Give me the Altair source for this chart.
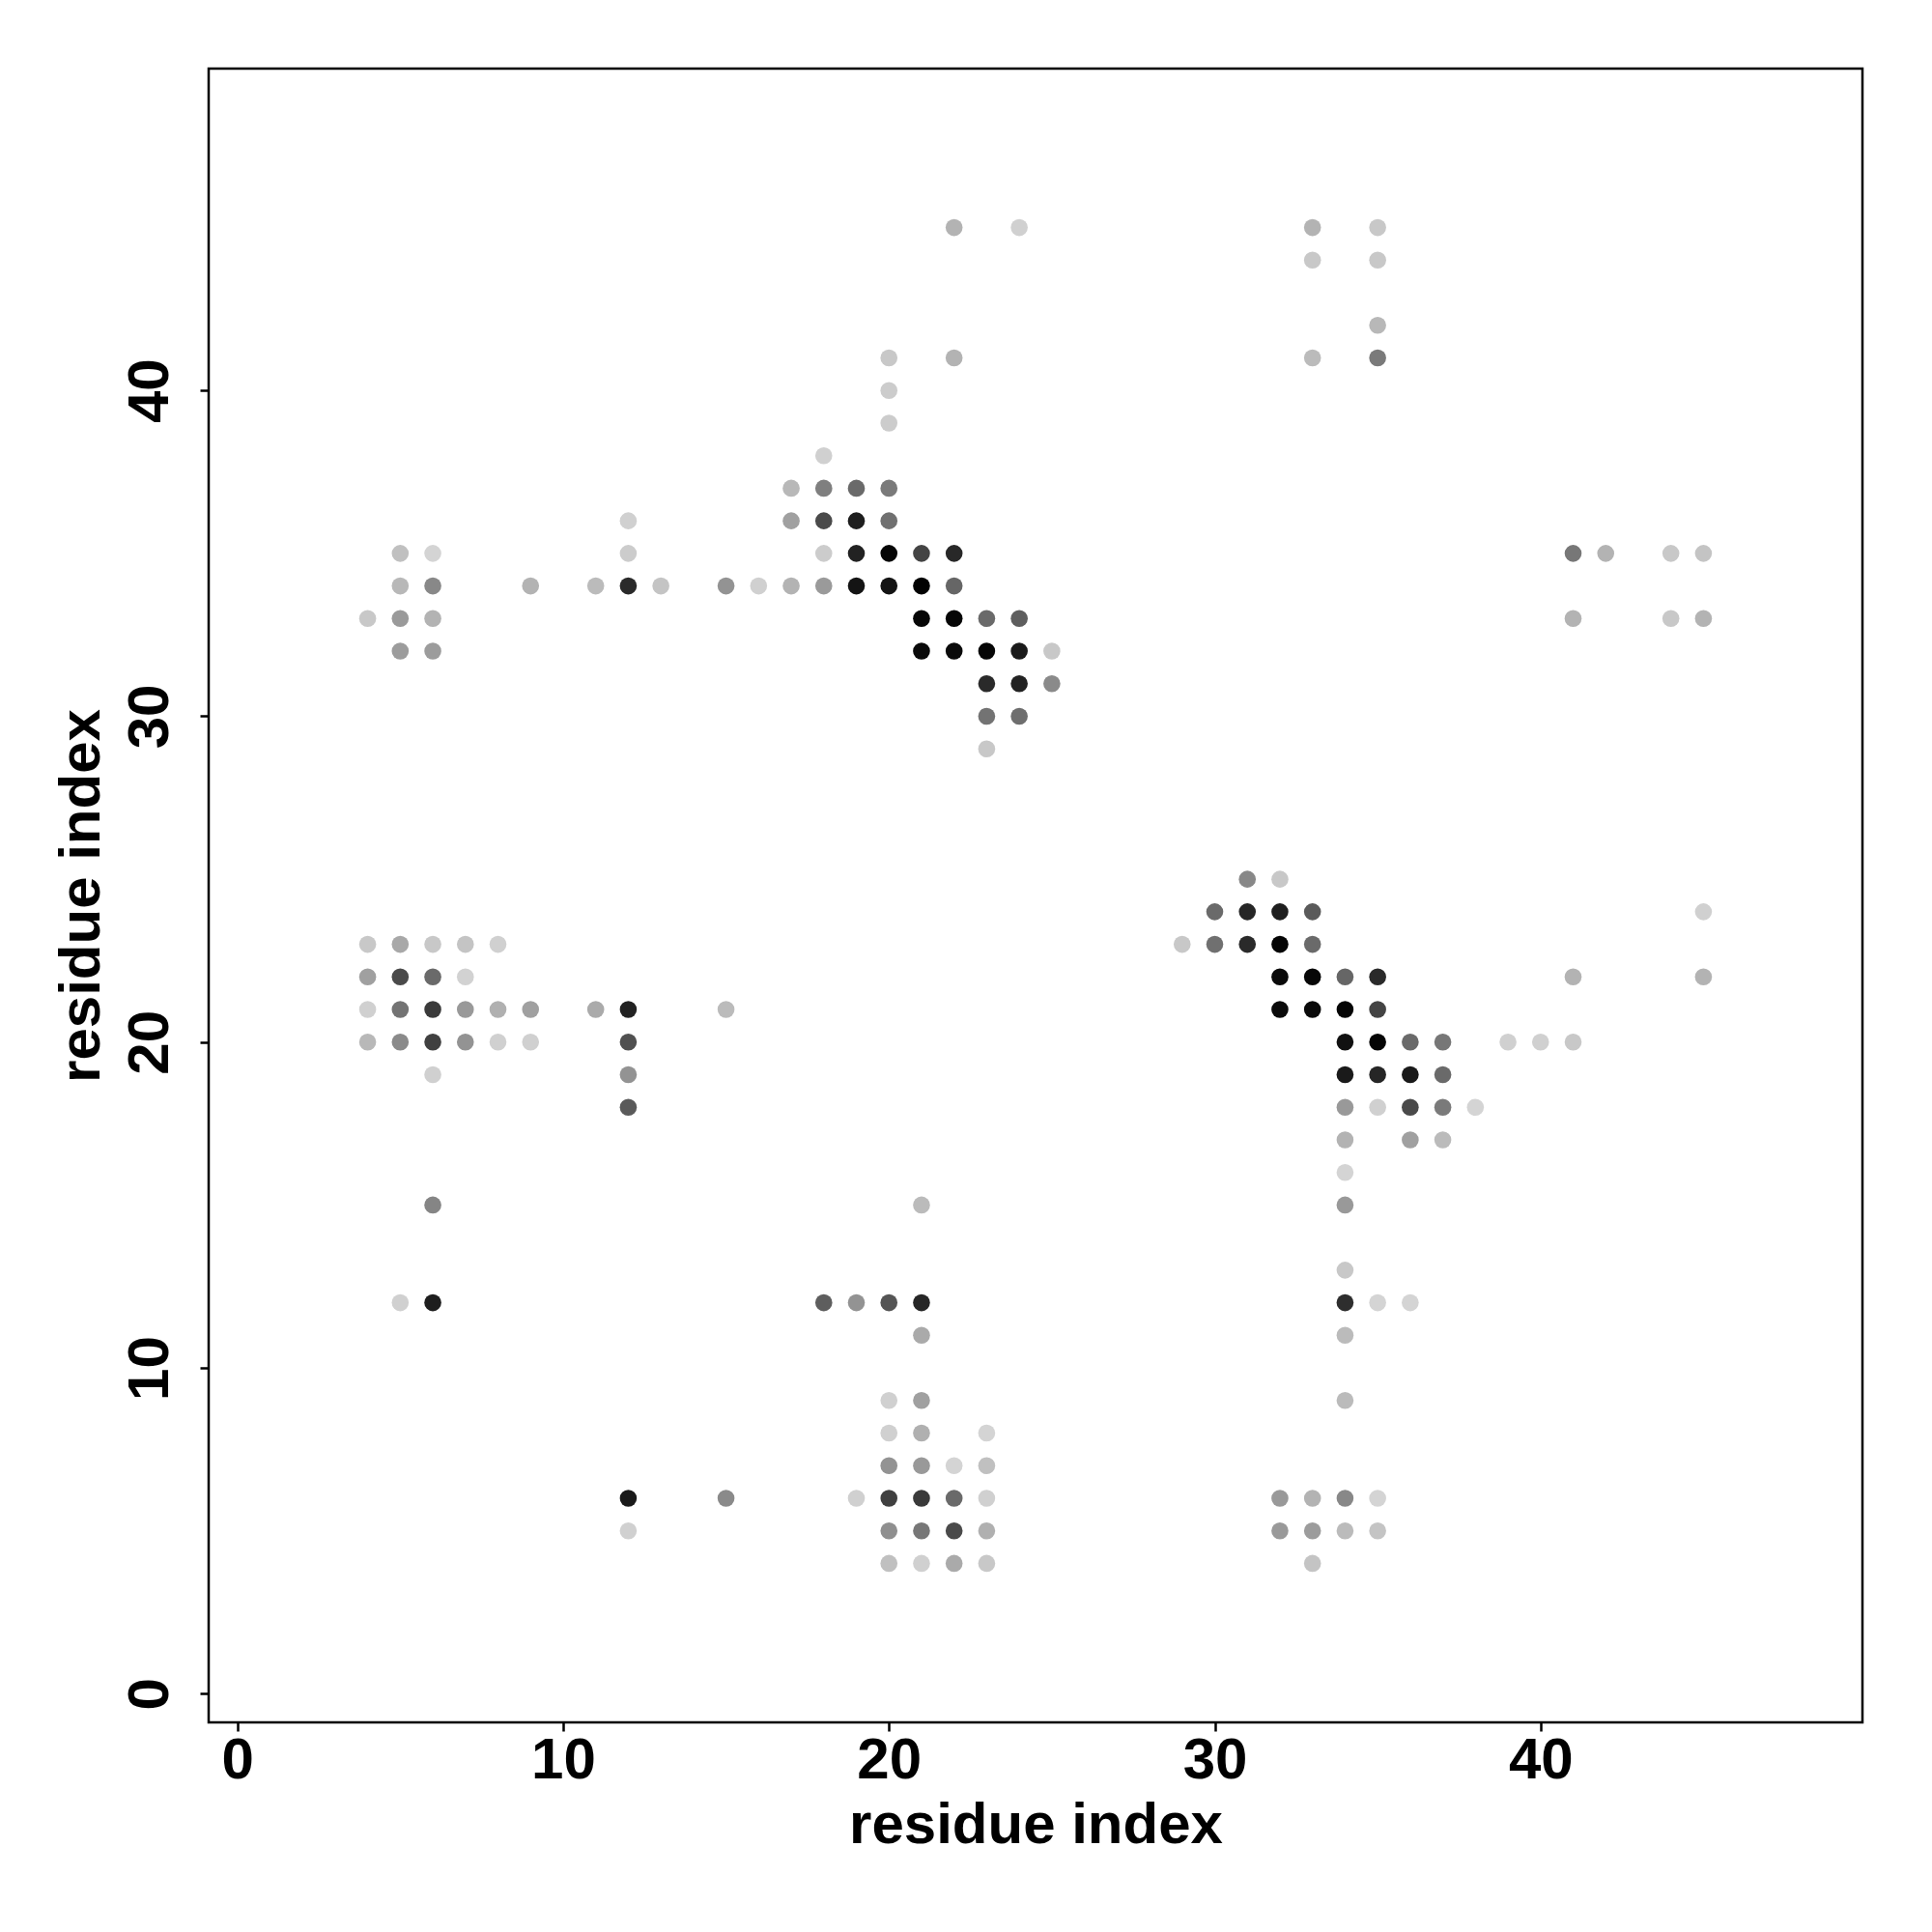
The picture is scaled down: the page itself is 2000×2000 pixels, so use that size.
import altair as alt
import pandas as pd

# residue pairs (i, j) and their grey shade (0 = black, 255 = white)
res_i = [
    22, 24, 33, 35,
    33, 35,
    35,
    20, 22, 33, 35,
    20,
    20,
    18,
    17, 18, 19, 20,
    12, 17, 18, 19, 20,
    5, 6, 12, 18, 19, 20, 21, 22, 41, 42, 44, 45,
    5, 6, 9, 11, 12, 13, 15, 16, 17, 18, 19, 20, 21, 22,
    4, 5, 6, 21, 22, 23, 24, 41, 44, 45,
    5, 6, 21, 22, 23, 24, 25,
    23, 24, 25,
    23, 24,
    23,
    31, 32,
    30, 31, 32, 33, 45,
    4, 5, 6, 7, 8, 29, 30, 31, 32, 33,
    4, 5, 6, 7, 32, 33, 34, 35, 41, 45,
    4, 5, 6, 7, 8, 9, 11, 12, 15, 32, 33, 34, 35,
    4, 5, 6, 7, 8, 9, 12, 34, 35, 36, 37, 39, 40, 41,
    6, 12, 34, 35, 36, 37,
    12, 34, 35, 36, 37, 38,
    34, 36, 37,
    34,
    6, 21, 34,
    34,
    5, 6, 18, 19, 20, 21, 34, 35, 36,
    21, 34,
    20, 21, 34,
    20, 21, 23,
    20, 21, 22, 23,
    12, 15, 19, 20, 21, 22, 23, 32, 33, 34, 35,
    12, 20, 21, 22, 23, 32, 33, 34, 35,
    20, 21, 22, 23, 33,
]

res_j = [
    45, 45, 45, 45,
    44, 44,
    42,
    41, 41, 41, 41,
    40,
    39,
    38,
    37, 37, 37, 37,
    36, 36, 36, 36, 36,
    35, 35, 35, 35, 35, 35, 35, 35, 35, 35, 35, 35,
    34, 34, 34, 34, 34, 34, 34, 34, 34, 34, 34, 34, 34, 34,
    33, 33, 33, 33, 33, 33, 33, 33, 33, 33,
    32, 32, 32, 32, 32, 32, 32,
    31, 31, 31,
    30, 30,
    29,
    25, 25,
    24, 24, 24, 24, 24,
    23, 23, 23, 23, 23, 23, 23, 23, 23, 23,
    22, 22, 22, 22, 22, 22, 22, 22, 22, 22,
    21, 21, 21, 21, 21, 21, 21, 21, 21, 21, 21, 21, 21,
    20, 20, 20, 20, 20, 20, 20, 20, 20, 20, 20, 20, 20, 20,
    19, 19, 19, 19, 19, 19,
    18, 18, 18, 18, 18, 18,
    17, 17, 17,
    16,
    15, 15, 15,
    13,
    12, 12, 12, 12, 12, 12, 12, 12, 12,
    11, 11,
    9, 9, 9,
    8, 8, 8,
    7, 7, 7, 7,
    6, 6, 6, 6, 6, 6, 6, 6, 6, 6, 6,
    5, 5, 5, 5, 5, 5, 5, 5, 5,
    4, 4, 4, 4, 4,
]

shade = [
    179, 208, 179, 200,
    200, 200,
    184,
    200, 179, 187, 122,
    204,
    204,
    208,
    184, 127, 106, 122,
    208, 160, 74, 30, 112,
    192, 212, 204, 204, 34, 6, 68, 40, 119, 179, 200, 196,
    184, 136, 179, 187, 42, 196, 147, 208, 179, 154, 20, 20, 2, 102,
    200, 154, 179, 6, 6, 106, 94, 179, 200, 179,
    156, 156, 10, 10, 6, 26, 200,
    42, 34, 138,
    115, 110,
    200,
    136, 200,
    106, 38, 30, 90, 208,
    200, 168, 200, 196, 208, 200, 112, 42, 5, 106,
    160, 74, 106, 210, 10, 7, 102, 42, 179, 179,
    208, 115, 58, 153, 176, 160, 170, 34, 187, 10, 10, 5, 68,
    184, 138, 64, 147, 208, 208, 80, 17, 5, 106, 119, 208, 208, 200,
    208, 147, 26, 38, 26, 106,
    90, 153, 208, 74, 122, 212,
    179, 160, 187,
    212,
    133, 187, 153,
    200,
    208, 30, 94, 147, 85, 38, 46, 212, 212,
    170, 187,
    208, 160, 187,
    208, 176, 212,
    147, 153, 212, 192,
    26, 138, 208, 64, 58, 106, 208, 153, 179, 136, 212,
    208, 143, 119, 74, 176, 153, 156, 187, 196,
    192, 208, 170, 200, 196,
]

axis_ticks = [0, 10, 20, 30, 40]
axis_title = "residue index"

df = pd.DataFrame({"i": res_i, "j": res_j, "shade": shade})

FONT = "Liberation Sans"
W = 1712
H = 1712
FS = 60

common = dict(
    values=axis_ticks,
    grid=False,
    domain=False,
    ticks=True,
    tickColor="black",
    tickWidth=2.5,
    tickSize=9,
    labelFont=FONT,
    labelFontSize=FS,
    labelFontWeight="bold",
    labelColor="black",
    labelFlush=False,
    labelOverlap=False,
    titleFont=FONT,
    titleFontSize=FS,
    titleFontWeight="bold",
    titleColor="black",
)

x_axis = alt.Axis(
    title=axis_title,
    labelBaseline="alphabetic",
    labelAlign="center",
    labelPadding=48,
    titleX=W / 2,
    titleY=124,
    titleAlign="center",
    titleBaseline="alphabetic",
    **common,
)

y_axis = alt.Axis(
    title=axis_title,
    labelAngle=270,
    labelAlign="center",
    labelBaseline="alphabetic",
    labelPadding=34,
    titleAngle=270,
    titleX=-114,
    titleY=H / 2,
    titleAlign="center",
    titleBaseline="alphabetic",
    **common,
)

chart = (
    alt.Chart(df)
    .mark_circle(size=310, opacity=1)
    .encode(
        x=alt.X("i:Q", scale=alt.Scale(domain=[-0.88, 49.88], nice=False, zero=False), axis=x_axis),
        y=alt.Y("j:Q", scale=alt.Scale(domain=[-0.88, 49.88], nice=False, zero=False), axis=y_axis),
        color=alt.Color(
            "shade:Q",
            scale=alt.Scale(domain=[0, 255], range=["#000000", "#ffffff"], interpolate="rgb"),
            legend=None,
        ),
    )
    .properties(
        width=W,
        height=H,
        autosize=alt.AutoSizeParams(type="none"),
        padding={"left": 208, "top": 63, "right": 40, "bottom": 190},
    )
    .configure_view(stroke="black", strokeWidth=2.5)
)

chart.save("out.html", embed_options={"renderer": "svg", "actions": False})
